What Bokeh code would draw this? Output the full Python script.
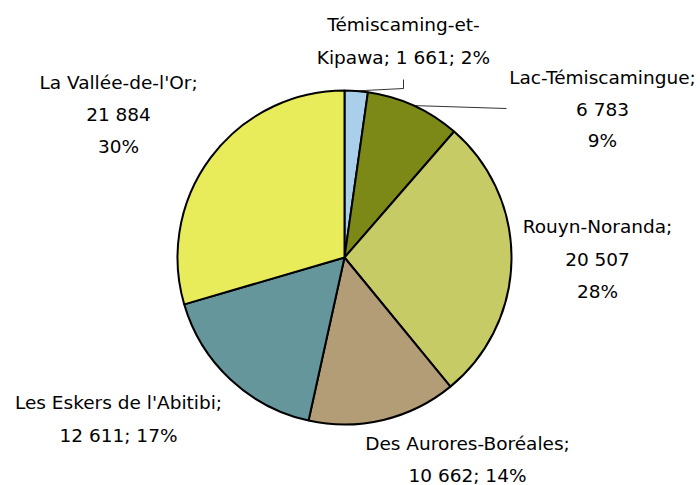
import math
from bokeh.plotting import figure
from bokeh.models import Range1d, ColumnDataSource
from bokeh.core.properties import value
from bokeh.embed import file_html
from bokeh.resources import INLINE

# ---- data ----
names = ["Témiscaming-et-Kipawa", "Lac-Témiscamingue", "Rouyn-Noranda",
         "Des Aurores-Boréales", "Les Eskers de l'Abitibi", "La Vallée-de-l'Or"]
values = [1661, 6783, 20507, 10662, 12611, 21884]
colors = ["#A9CFEA", "#7D8917", "#C7CB66", "#B39D77", "#64969B", "#E8EC5B"]

W, H = 700, 485
FONT = "DejaVu Sans"
FS = "18.5px"

def fmt(v):
    return f"{v:,}".replace(",", " ")

total = sum(values)
pcts = [round(v / total * 100) for v in values]

def label_lines(i):
    n, v, pc = names[i], fmt(values[i]), f"{pcts[i]}%"
    if i == 0:
        return ["Témiscaming-et-", f"Kipawa; {v}; {pc}"]
    if i in (1, 2, 5):
        return [n + ";", v, pc]
    return [n + ";", f"{v}; {pc}"]

# label layout: screen coords of first line centre, line step
label_pos = [(403, 24, 33), (602, 77, 31.5), (597, 226, 32.5),
             (467, 443, 32), (118, 402, 33), (118, 82, 32)]

cx_s, cy_s, R = 344, 257, 167

def to_data(sx, sy):
    return sx, H - sy

cx, cy = to_data(cx_s, cy_s)

p = figure(width=W, height=H, output_backend="svg", toolbar_location=None,
           x_range=Range1d(0, W), y_range=Range1d(0, H), min_border=0)
p.axis.visible = False
p.grid.visible = False
p.outline_line_color = None
p.background_fill_color = "white"
p.border_fill_color = "white"

starts, ends, mids = [], [], []
cum = 0
for v in values:
    f0 = cum / total
    cum += v
    f1 = cum / total
    starts.append(math.pi / 2 - 2 * math.pi * f0)
    ends.append(math.pi / 2 - 2 * math.pi * f1)
    mids.append(math.pi / 2 - 2 * math.pi * (f0 + f1) / 2)

src = ColumnDataSource(dict(start=starts, end=ends, color=colors))
p.wedge(x=cx, y=cy, radius=R, start_angle="start", end_angle="end",
        direction="clock", fill_color="color", line_color="black",
        line_width=2, source=src)

# leader lines for the two small slices
lead_targets = {0: [(403, 88), (403, 79)], 1: [(506, 108)]}
for i, pts in lead_targets.items():
    a = mids[i]
    xs = [cx + R * math.cos(a)]
    ys = [cy + R * math.sin(a)]
    for sx, sy in pts:
        dx, dy = to_data(sx, sy)
        xs.append(dx)
        ys.append(dy)
    p.line(xs, ys, line_color="black", line_width=0.8)

tx, ty, tt = [], [], []
for i in range(len(values)):
    lx, ly, dl = label_pos[i]
    for k, line in enumerate(label_lines(i)):
        dx, dy = to_data(lx, ly + k * dl)
        tx.append(dx)
        ty.append(dy)
        tt.append(line)

p.text(x=tx, y=ty, text=tt, text_align="center", text_baseline="middle",
       text_font=value(FONT), text_font_size=FS, text_color="black")

open("out.html", "w").write(file_html(p, INLINE))
